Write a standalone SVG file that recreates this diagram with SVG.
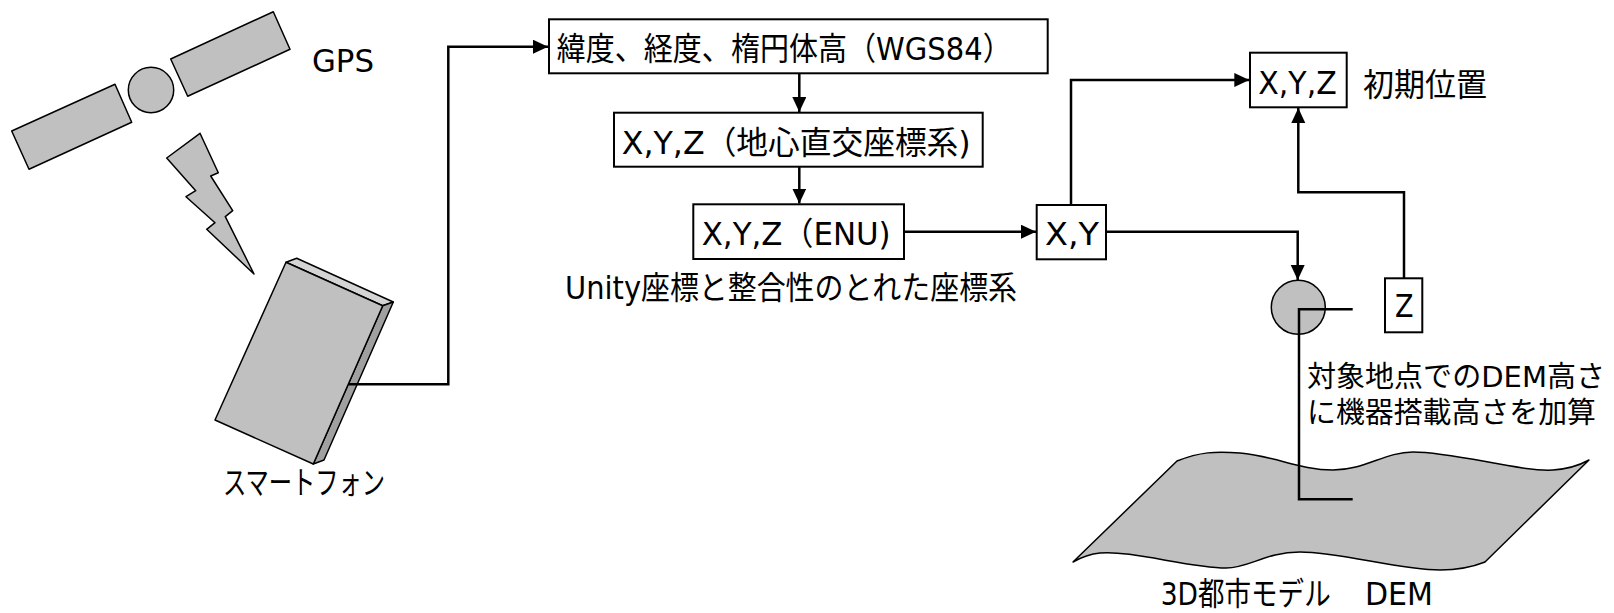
<svg xmlns="http://www.w3.org/2000/svg" width="1614" height="613" viewBox="0 0 1614 613">
  <style>
    .bg { fill: #ffffff; }
    .shape { fill: #c0c0c0; stroke: #000000; stroke-width: 1.5; stroke-linejoin: round; }
    .box { fill: #ffffff; stroke: #000000; stroke-width: 2; }
    .wire { fill: none; stroke: #000000; stroke-width: 2.5; stroke-linejoin: miter; }
    .lbl { font-family: "DejaVu Sans", "Noto Sans CJK JP", sans-serif; font-size: 32px; fill: #000000; }
    .note { font-size: 29px; }
  </style>
  <defs>
    <marker id="arrow" markerUnits="userSpaceOnUse" markerWidth="16" markerHeight="15" refX="15" refY="7" orient="auto">
      <path d="M0,0 L15,7 L0,14 Z" fill="#000000"/>
    </marker>
  </defs>

  <rect class="bg" x="0" y="0" width="1614" height="613"/>

  <!-- GPS satellite with signal bolt -->
  <g id="gps">
    <polygon class="shape" points="11.7,131 115,84.3 131.7,122.3 29,169.3"/>
    <circle class="shape" cx="151" cy="90" r="22.7"/>
    <polygon class="shape" points="170.7,59 273.3,11.7 290,49.3 187.7,96.3"/>
    <polygon class="shape" points="166.7,158 200,133.3 218.3,172.7 210.7,176 232.7,210.7 225.3,216.7 254,274 206.7,229.3 215,222.7 186,196.7 195.7,190.7"/>
    <text class="lbl" x="312" y="72" textLength="62" lengthAdjust="spacingAndGlyphs">GPS</text>
  </g>

  <!-- smartphone -->
  <g id="smartphone">
    <polygon fill="#d4d4d4" stroke="#000" stroke-width="1.5" stroke-linejoin="round" points="286,262.3 296.7,258.3 393.3,302 382.7,305.7"/>
    <polygon fill="#a0a0a0" stroke="#000" stroke-width="1.5" stroke-linejoin="round" points="382.7,305.7 393.3,302 324,460 313.3,464"/>
    <polygon class="shape" points="286,262.3 382.7,305.7 313.3,464 215,420"/>
    <text class="lbl" x="223" y="494" font-size="29" textLength="162" lengthAdjust="spacingAndGlyphs">スマートフォン</text>
  </g>

  <!-- conversion chain -->
  <g id="wgs84">
    <rect class="box" x="549" y="19.3" width="498.7" height="54"/>
    <text class="lbl" x="556.7" y="60" textLength="455" lengthAdjust="spacingAndGlyphs">緯度、経度、楕円体高（WGS84）</text>
  </g>
  <g id="ecef">
    <rect class="box" x="614" y="112.7" width="368.7" height="54"/>
    <text class="lbl" x="621.7" y="154" textLength="349" lengthAdjust="spacingAndGlyphs">X,Y,Z（地心直交座標系)</text>
  </g>
  <g id="enu">
    <rect class="box" x="693.3" y="204.3" width="210.7" height="54.7"/>
    <text class="lbl" x="701.7" y="245" textLength="189" lengthAdjust="spacingAndGlyphs">X,Y,Z（ENU)</text>
    <text class="lbl" x="565" y="299" textLength="452" lengthAdjust="spacingAndGlyphs">Unity座標と整合性のとれた座標系</text>
  </g>
  <g id="xy">
    <rect class="box" x="1036.7" y="205" width="69.3" height="54.3"/>
    <text class="lbl" x="1045" y="245" textLength="54" lengthAdjust="spacingAndGlyphs">X,Y</text>
  </g>
  <g id="initial">
    <rect class="box" x="1250" y="52.7" width="96.7" height="54.6"/>
    <text class="lbl" x="1258.3" y="94" textLength="78.4" lengthAdjust="spacingAndGlyphs">X,Y,Z</text>
    <text class="lbl" x="1363" y="96" textLength="124" lengthAdjust="spacingAndGlyphs">初期位置</text>
  </g>
  <g id="z">
    <rect class="box" x="1385" y="278.3" width="37.3" height="54"/>
    <text class="lbl" x="1395" y="317" textLength="18.5" lengthAdjust="spacingAndGlyphs">Z</text>
  </g>
  <g id="sample-point">
    <circle class="shape" cx="1298.3" cy="307.3" r="27"/>
    <text class="lbl note" x="1307" y="386.5" textLength="298" lengthAdjust="spacingAndGlyphs">対象地点でのDEM高さ</text>
    <text class="lbl note" x="1307" y="423" textLength="289" lengthAdjust="spacingAndGlyphs">に機器搭載高さを加算</text>
  </g>
  <g id="dem">
    <path class="shape" d="M1177,461 C1200,452 1215,451 1240,453 C1275,456 1300,470 1333,470 C1365,470 1385,452 1413,452 C1455,452 1520,472 1553,470 C1568,469 1580,465 1589,460 L1485,562 C1470,568 1455,570 1440,570 C1400,570 1340,552 1300,552 C1265,552 1250,568 1226,568 C1190,568 1130,550 1100,553 C1090,554 1080,558 1073,562 Z"/>
    <text class="lbl" x="1160.7" y="605"><tspan textLength="170" lengthAdjust="spacingAndGlyphs">3D都市モデル</tspan><tspan x="1365" textLength="68" lengthAdjust="spacingAndGlyphs">DEM</tspan></text>
  </g>

  <!-- connectors -->
  <g id="connectors">
    <polyline class="wire" points="349,384.3 448.3,384.3 448.3,46.7 548,46.7" marker-end="url(#arrow)"/>
    <line class="wire" x1="799.3" y1="73.3" x2="799.3" y2="112" marker-end="url(#arrow)"/>
    <line class="wire" x1="799.3" y1="166.7" x2="799.3" y2="203.5" marker-end="url(#arrow)"/>
    <line class="wire" x1="904" y1="231.7" x2="1036" y2="231.7" marker-end="url(#arrow)"/>
    <polyline class="wire" points="1071,205 1071,80 1249.3,80" marker-end="url(#arrow)"/>
    <polyline class="wire" points="1106,231.7 1297.7,231.7 1297.7,280" marker-end="url(#arrow)"/>
    <polyline class="wire" points="1404,278.3 1404,192.3 1298.3,192.3 1298.3,108" marker-end="url(#arrow)"/>
    <polyline class="wire" points="1352.7,309.3 1299,309.3 1299,499.3 1352.7,499.3"/>
  </g>
</svg>
